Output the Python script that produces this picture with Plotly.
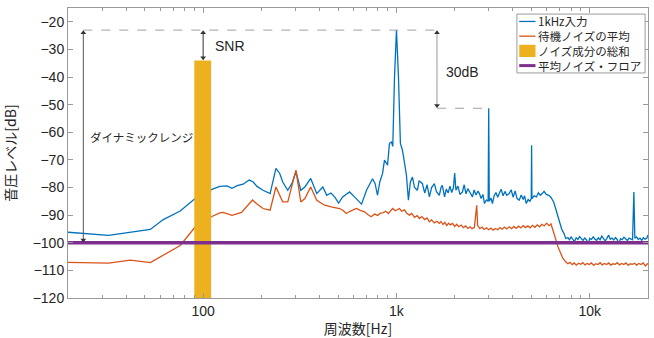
import math
import plotly.graph_objects as go

# ---------------- data ----------------
blue_freq = [20, 23.8, 32.4, 53.3, 62.2, 76.1, 90.9, 111, 122, 133, 141, 150, 161, 173, 181, 190, 204, 222,
             232, 238, 249, 258, 274, 288, 302, 320, 336, 360, 387, 416, 436, 458, 479, 502, 527, 550, 572,
             607, 632, 660, 700, 725, 752, 775, 798, 820, 847, 867, 899, 920, 942, 957, 977, 1000, 1024,
             1048, 1074, 1100, 1126, 1153,
             1180, 1209, 1240, 1283, 1310, 1362, 1400, 1440, 1480, 1520, 1570, 1610, 1666, 1700, 1727, 1774,
             1810, 1850, 1890, 1930, 1970, 2000, 2030, 2080, 2130, 2194, 2240, 2290, 2340, 2400, 2473, 2520,
             2580, 2640, 2686, 2740, 2800, 2852, 2920, 2980, 3000, 3020, 3080, 3136, 3200, 3270, 3340, 3400,
             3480, 3560, 3640, 3720, 3831, 3920, 4010, 4110, 4200, 4314, 4420, 4520, 4600, 4690, 4800, 4900,
             4980, 5000, 5020, 5150, 5294, 5420, 5550, 5677, 5800, 5950, 6138, 6300, 6500, 6650, 6786, 6900,
             7000, 7150, 7345, 7520, 7700, 7850, 8000, 8170, 8330, 8500, 8680, 8850, 9030, 9220, 9400, 9600,
             9800, 10000, 10200, 10420, 10630, 10850, 11070, 11300, 11530, 11770, 12010, 12260, 12510, 12770,
             13030, 13300, 13570, 13850, 14130, 14420, 14720, 15020, 15330, 15650, 15970, 16300, 16640, 16900,
             17100, 17450, 17810, 18180, 18550, 18930, 19320, 19720, 20000]
blue_db = [-96.2, -96.6, -97.3, -95.2, -91.6, -88.5, -84.0, -80.7, -79.6, -79.4, -80.3, -79.3, -78.8, -77.3,
           -77.9, -79.6, -81.0, -82.2, -77.0, -73.1, -74.9, -78.0, -81.0, -78.5, -74.3, -81.0, -79.8, -76.7,
           -82.2, -79.8, -82.8, -82.0, -83.4, -85.6, -83.4, -82.5, -81.6, -83.4, -84.5, -86.0, -81.0, -79.0,
           -76.8, -78.5, -82.8, -78.0, -75.0, -70.1, -71.9, -64.0, -63.5, -65.1, -40.0, -23.0, -40.0, -64.0,
           -66.5, -71.0, -75.5, -84.6,
           -78.0, -76.2, -80.0, -81.0, -77.5, -78.6, -82.0, -79.0, -83.4, -80.0, -78.6, -81.5, -82.8, -80.0,
           -79.2, -83.4, -80.5, -82.0, -79.5, -81.8, -80.2, -74.8, -81.0, -79.5, -82.5, -81.6, -79.0, -82.3,
           -80.4, -81.8, -83.4, -80.9, -82.7, -81.3, -82.2, -84.0, -82.5, -85.8, -84.5, -85.0, -51.3, -85.0,
           -83.8, -85.8, -83.0, -81.8, -83.5, -82.2, -80.6, -83.0, -81.4, -82.8, -82.2, -80.8, -83.5, -81.2,
           -83.9, -84.6, -82.7, -84.3, -83.0, -85.8, -84.3, -85.0, -84.0, -64.7, -84.0, -83.0, -83.4, -81.9,
           -82.8, -82.2, -81.4, -82.5, -82.8, -83.6, -85.2, -87.5, -89.4, -91.2, -93.0, -95.0, -96.6, -98.5,
           -98.1, -98.9, -97.9, -98.6, -99.6, -98.2, -98.8, -97.8, -98.7, -99.2, -98.3, -98.9, -100.4, -98.4,
           -98.8, -97.9, -98.7, -99.1, -98.2, -98.9, -97.6, -98.6, -99.3, -98.4, -97.2, -98.7, -98.3, -99.0,
           -98.1, -98.8, -100.3, -98.5, -98.9, -98.0, -98.7, -99.2, -98.3, -98.6, -98.9, -81.6, -98.4, -97.9,
           -98.8, -98.3, -99.1, -98.2, -98.7, -98.4, -97.2]

orange_freq = [20, 23.8, 32.4, 42, 53.3, 76.1, 90.9, 111, 122, 127, 141, 158, 180, 190, 204, 222, 238, 258,
               274, 302, 320, 336, 360, 387, 425, 460, 508, 530, 550, 575, 600, 620, 650, 684, 710, 740, 770,
               800, 825, 850, 880, 910, 935, 957, 985, 1010, 1036, 1065, 1100, 1130, 1167, 1200, 1240, 1280,
               1314, 1350, 1400, 1440, 1480, 1520, 1570, 1620, 1666, 1700, 1740, 1780, 1820, 1860, 1900, 1950,
               2000, 2050, 2100, 2160, 2220, 2280, 2340, 2400, 2460, 2530, 2600, 2630, 2700, 2770, 2840, 2920,
               3000, 3080, 3160, 3250, 3340, 3430, 3520, 3620, 3720, 3830, 3940, 4050, 4160, 4280, 4400, 4520,
               4650, 4780, 4910, 5050, 5200, 5350, 5500, 5650, 5810, 5980, 6150, 6300, 6394, 6550, 6650, 6850,
               7050, 7250, 7500, 7700, 7900, 8100, 8300, 8520, 8740, 8970, 9200, 9440, 9690, 9940, 10200, 10470,
               10740, 11020, 11310, 11600, 11900, 12210, 12530, 12860, 13190, 13530, 13880, 14240, 14610, 14990,
               15380, 15780, 16190, 16610, 17040, 17480, 17930, 18400, 18880, 19370, 19870, 20000]
orange_db = [-107.1, -107.2, -107.4, -106.3, -107.2, -101.0, -94.3, -90.5, -89.2, -89.0, -90.1, -89.0, -84.5,
             -86.0, -87.6, -88.2, -79.8, -85.2, -85.2, -73.7, -85.2, -84.0, -79.8, -84.6, -86.4, -87.0, -87.6,
             -88.3, -89.4, -88.6, -87.9, -87.6, -88.3, -88.8, -89.8, -90.6, -89.6, -90.1, -89.3, -89.2, -88.6,
             -89.4, -88.3, -87.6, -88.4, -87.9, -87.6, -88.6, -88.1, -89.3, -90.0, -89.4, -90.8, -90.2, -91.2,
             -90.5, -91.6, -91.0, -92.4, -91.7, -92.8, -92.2, -93.0, -92.3, -93.4, -92.6, -93.8, -92.9, -93.5,
             -93.0, -94.1, -93.3, -94.2, -93.6, -94.5, -93.9, -94.8, -94.2, -94.9, -94.4, -86.4, -93.8, -94.9,
             -94.3, -95.2, -94.6, -95.3, -94.7, -95.4, -94.8, -95.3, -94.5, -95.1, -94.3, -95.0, -94.2, -94.9,
             -94.1, -94.8, -94.0, -94.6, -93.8, -94.5, -93.9, -94.6, -93.7, -94.4, -93.5, -94.2, -93.3, -93.9,
             -92.9, -93.8, -93.2, -94.5, -96.8, -98.5, -101.5, -103.9, -105.6, -106.9, -107.6, -107.1, -107.9,
             -107.3, -108.1, -107.4, -107.8, -107.2, -108.0, -107.5, -107.9, -107.3, -108.2, -107.6, -107.9,
             -107.2, -108.0, -107.5, -107.9, -107.3, -108.1, -107.6, -107.8, -107.2, -108.0, -107.5, -107.9,
             -107.3, -108.2, -107.6, -107.8, -107.4, -108.1, -107.5, -107.9, -107.3, -108.4, -107.6, -107.8]

noise_band = [90, 110]          # Hz, band of the noise-sum bar
noise_sum_db = -34              # dB, total noise level
floor_db = -100                 # dB, average noise floor
peak_db = -23                   # dB, 1 kHz peak
harm_db = -51.3                 # dB, 3 kHz harmonic
harm_freq = 3000
dr_freq = 24                    # Hz, dynamic-range arrow position
snr_freq = 100
db30_freq = 1620
f_range = [20, 20000]

y_ticks = list(range(-120, -10, 10))
x_ticks = [100, 1000, 10000]
x_ticktext = ["100", "1k", "10k"]
x_minor = [30, 40, 50, 60, 70, 80, 90, 200, 300, 400, 500, 600, 700, 800, 900,
           2000, 3000, 4000, 5000, 6000, 7000, 8000, 9000]

legend_names = ["1kHz入力", "待機ノイズの平均", "ノイズ成分の総和", "平均ノイズ・フロア"]

BLUE, ORANGE, YELLOW, PURPLE = "#0072BD", "#D95319", "#EDB120", "#7E2F8E"
FONT = "Liberation Sans, Arial, Noto Sans CJK JP, sans-serif"
JFONT = "Noto Sans CJK JP, Liberation Sans, sans-serif"
ANN = "#333333"
TXT = "#262626"
AXC = "#9a9a9a"

fig = go.Figure()
fig.add_trace(go.Scatter(x=blue_freq, y=blue_db, mode="lines", name=legend_names[0],
                         line=dict(color=BLUE, width=1.3), showlegend=False))
fig.add_trace(go.Scatter(x=orange_freq, y=orange_db, mode="lines", name=legend_names[1],
                         line=dict(color=ORANGE, width=1.3), showlegend=False))
fig.add_trace(go.Scatter(x=[noise_band[0], noise_band[0], noise_band[1], noise_band[1]],
                         y=[-120, noise_sum_db, noise_sum_db, -120], mode="lines", fill="toself",
                         fillcolor=YELLOW, line=dict(color=YELLOW, width=0), name=legend_names[2],
                         showlegend=False))
fig.add_trace(go.Scatter(x=f_range, y=[floor_db, floor_db], mode="lines", name=legend_names[3],
                         line=dict(color=PURPLE, width=3.5), showlegend=False))

# dashed reference lines
fig.add_trace(go.Scatter(x=[dr_freq, db30_freq], y=[peak_db, peak_db], mode="lines", showlegend=False,
                         line=dict(color="#a0a0a0", width=1, dash="dash"), hoverinfo="skip"))
fig.add_trace(go.Scatter(x=[db30_freq, harm_freq], y=[harm_db, harm_db], mode="lines", showlegend=False,
                         line=dict(color="#a0a0a0", width=1, dash="dash"), hoverinfo="skip"))

# double arrows
for f, y0, y1, col in [(dr_freq, peak_db, floor_db, "#555555"),
                       (snr_freq, peak_db, noise_sum_db, ANN),
                       (db30_freq, peak_db, harm_db, "#999999")]:
    fig.add_trace(go.Scatter(x=[f, f], y=[y0 - 1.0, y1 + 1.0], mode="lines", showlegend=False,
                             line=dict(color=col, width=1), hoverinfo="skip"))
    fig.add_trace(go.Scatter(x=[f, f], y=[y0 - 1.0, y1 + 1.0], mode="markers", showlegend=False,
                             marker=dict(symbol=["triangle-up", "triangle-down"], size=5, color=ANN),
                             hoverinfo="skip"))

fig.add_annotation(x=math.log10(112), y=-28.8, text="SNR", showarrow=False, xanchor="left",
                   font=dict(size=14, color=TXT, family=FONT))
fig.add_annotation(x=math.log10(1760), y=-38.2, text="30dB", showarrow=False, xanchor="left",
                   font=dict(size=14, color=TXT, family=FONT))
fig.add_annotation(x=math.log10(25.3), y=-61.8, text="ダイナミックレンジ", showarrow=False, xanchor="left",
                   font=dict(size=11.5, color=TXT, family=JFONT))

# ---- compact legend (paper coordinates of the plot area) ----
lx0, lx1, ly1, ly0 = 0.774, 0.995, 0.979, 0.776
fig.add_shape(type="rect", xref="paper", yref="paper", x0=lx0, x1=lx1, y0=ly0, y1=ly1,
              line=dict(color=AXC, width=1), fillcolor="white", layer="above")
row_h = (ly1 - ly0) / 4
sym_x0, sym_x1 = lx0 + 0.004, lx0 + 0.032
for i, (name, col) in enumerate(zip(legend_names, [BLUE, ORANGE, YELLOW, PURPLE])):
    yc = ly1 - row_h * (i + 0.5)
    if i == 2:
        fig.add_shape(type="rect", xref="paper", yref="paper", x0=sym_x0, x1=sym_x1,
                      y0=yc - 0.021, y1=yc + 0.021, line=dict(width=0), fillcolor=col, layer="above")
    else:
        fig.add_shape(type="line", xref="paper", yref="paper", x0=sym_x0, x1=sym_x1, y0=yc, y1=yc,
                      line=dict(color=col, width=3 if i == 3 else 1.3), layer="above")
    fig.add_annotation(xref="paper", yref="paper", x=sym_x1 + 0.003, y=yc, text=name, showarrow=False,
                       xanchor="left", yanchor="middle", borderpad=0,
                       font=dict(size=11.5, color=TXT, family=JFONT))

axis_common = dict(showline=True, linecolor=AXC, linewidth=1, mirror="allticks", ticks="inside",
                   tickcolor=AXC, ticklen=5, showgrid=False, zeroline=False, automargin=False,
                   tickfont=dict(size=14, color=TXT, family=FONT))
fig.update_xaxes(type="log", range=[math.log10(f_range[0]), math.log10(f_range[1])],
                 tickvals=x_ticks, ticktext=x_ticktext,
                 minor=dict(tickvals=x_minor, ticks="inside", ticklen=3, tickcolor=AXC),
                 title=dict(text="周波数[Hz]", font=dict(size=14, color=TXT, family=JFONT)),
                 **axis_common)
fig.update_yaxes(range=[-120, -15], tickvals=y_ticks,
                 title=dict(text="音圧レベル[dB]", font=dict(size=14, color=TXT, family=JFONT)),
                 **axis_common)

fig.update_layout(width=654, height=338, margin=dict(l=68, r=6, t=8, b=40),
                  paper_bgcolor="white", plot_bgcolor="white",
                  font=dict(family=FONT, color=TXT), showlegend=False)

fig.write_html("out.html", config={"displayModeBar": False},
               post_script="document.body.style.margin='0';document.body.style.overflow='hidden';")
